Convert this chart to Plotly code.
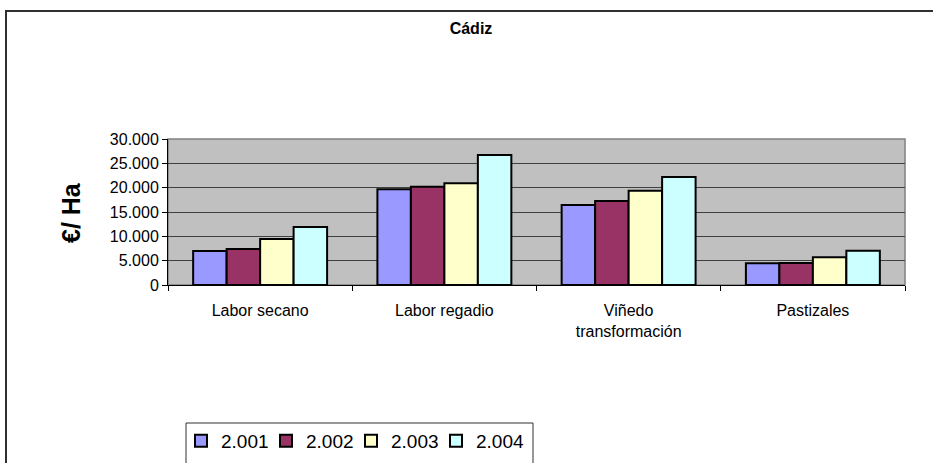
import plotly.graph_objects as go

# ---- data ----
categories = ["Labor secano", "Labor regadio", "Viñedo<br>transformación", "Pastizales"]
years = ["2.001", "2.002", "2.003", "2.004"]
values_2001 = [7000, 19700, 16450, 4450]
values_2002 = [7400, 20200, 17250, 4500]
values_2003 = [9450, 20900, 19350, 5700]
values_2004 = [11900, 26700, 22200, 7050]
colors = ["#9999FF", "#993366", "#FFFFCC", "#CCFFFF"]
y_ticks = [0, 5000, 10000, 15000, 20000, 25000, 30000]

W, H = 933, 463
# plot area in pixels (from the reference)
PL, PR, PT, PB = 168, 905, 139, 285


def px_to_paper_x(px):
    return (px - PL) / (PR - PL)


def px_to_paper_y(py):
    return (PB - py) / (PB - PT)


fig = go.Figure()

series = [values_2001, values_2002, values_2003, values_2004]
for name, vals, col in zip(years, series, colors):
    fig.add_trace(
        go.Bar(
            x=categories,
            y=vals,
            name=name,
            marker=dict(color=col, line=dict(color="black", width=2)),
        )
    )

# empty legend entry so the last label is not clipped by the narrow entries
fig.add_trace(
    go.Scatter(
        x=[None],
        y=[None],
        mode="markers",
        name=" ",
        marker=dict(color="rgba(0,0,0,0)", size=1, line=dict(width=0)),
        hoverinfo="skip",
    )
)

font = "Liberation Sans, Arial, sans-serif"

fig.update_layout(
    width=W,
    height=H,
    margin=dict(l=PL, r=W - PR, t=PT, b=H - PB, autoexpand=False),
    paper_bgcolor="white",
    plot_bgcolor="#C0C0C0",
    separators=",.",
    barmode="group",
    bargap=0.273,
    bargroupgap=0,
    font=dict(family=font, size=16, color="black"),
    title=dict(
        text="<b>Cádiz</b>",
        x=471 / W,
        xanchor="center",
        xref="container",
        y=1 - 28 / H,
        yanchor="middle",
        yref="container",
        font=dict(family=font, size=16, color="black"),
    ),
    showlegend=True,
    legend=dict(
        orientation="h",
        x=px_to_paper_x(181),
        xanchor="left",
        y=px_to_paper_y(441),
        yanchor="middle",
        bgcolor="rgba(0,0,0,0)",
        borderwidth=0,
        font=dict(family=font, size=19, color="black"),
        traceorder="normal",
        itemwidth=30,
        entrywidth=40,
        entrywidthmode="pixels",
    ),
)

fig.update_yaxes(
    range=[0, 30000],
    tickvals=y_ticks,
    tickformat=",d",
    showgrid=True,
    gridcolor="#404040",
    gridwidth=1,
    zeroline=False,
    showline=True,
    linecolor="black",
    linewidth=1,
    ticks="outside",
    ticklen=5,
    tickcolor="black",
    tickfont=dict(family=font, size=16, color="black"),
    automargin=False,
)

fig.update_xaxes(
    type="category",
    showgrid=False,
    showline=True,
    linecolor="black",
    linewidth=1,
    ticks="outside",
    ticklen=5,
    tickcolor="black",
    tickson="boundaries",
    tickfont=dict(family=font, size=16, color="black"),
    ticklabelstandoff=11,
    automargin=False,
)

# y-axis title
fig.add_annotation(
    text="<b>€/ Ha</b>",
    textangle=-90,
    xref="paper",
    yref="paper",
    x=px_to_paper_x(71),
    y=0.5,
    xanchor="center",
    yanchor="middle",
    showarrow=False,
    font=dict(family=font, size=25, color="black"),
)

# plot area border (gray on top/right)
fig.add_shape(
    type="rect",
    xref="paper",
    yref="paper",
    x0=0,
    x1=1,
    y0=0,
    y1=1,
    line=dict(color="#808080", width=1.5),
    layer="below",
)

# legend box (runs off the bottom of the picture)
fig.add_shape(
    type="rect",
    xref="paper",
    yref="paper",
    x0=px_to_paper_x(186),
    x1=px_to_paper_x(533),
    y0=px_to_paper_y(480),
    y1=px_to_paper_y(423),
    line=dict(color="#303030", width=1),
    fillcolor="white",
    layer="below",
)

# outer chart frame (runs off the right and bottom of the picture)
fig.add_shape(
    type="rect",
    xref="paper",
    yref="paper",
    x0=px_to_paper_x(6),
    x1=px_to_paper_x(960),
    y0=px_to_paper_y(490),
    y1=px_to_paper_y(11),
    line=dict(color="#303030", width=2),
)

fig.write_html(
    "out.html",
    config={"displayModeBar": False},
    post_script="document.body.style.margin='0';",
)
